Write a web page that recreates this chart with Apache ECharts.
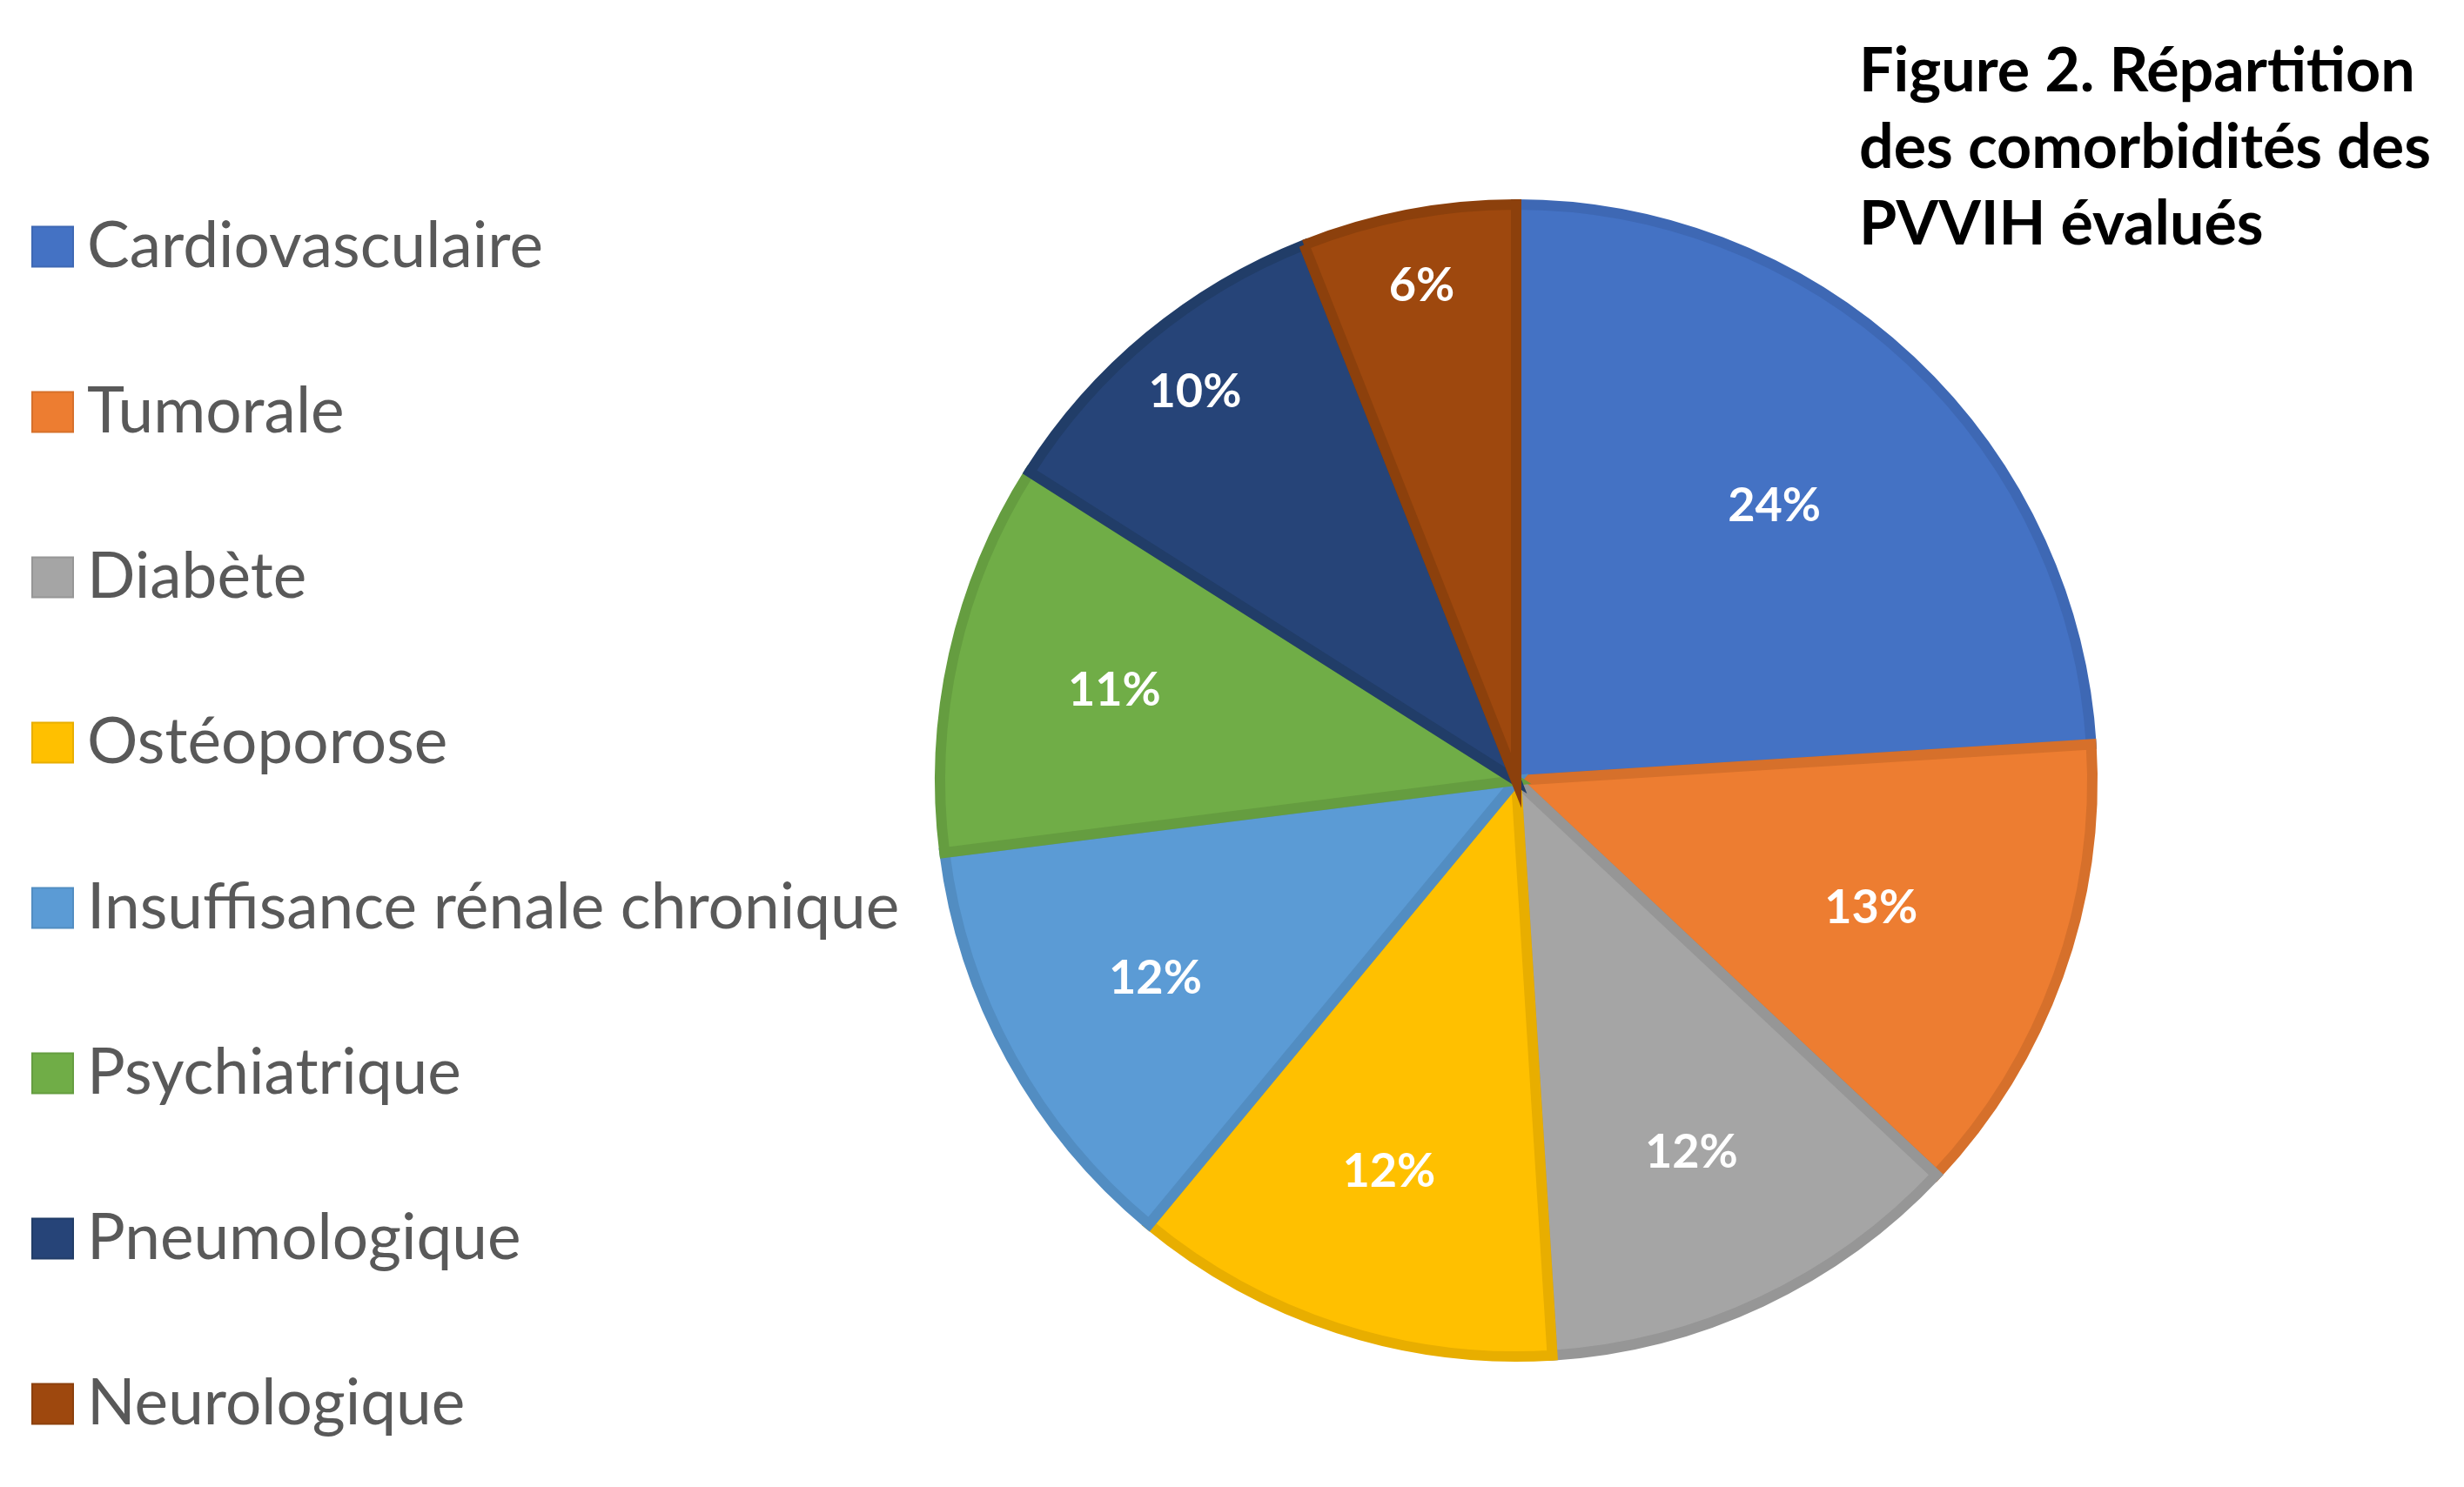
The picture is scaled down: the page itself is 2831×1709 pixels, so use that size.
<!DOCTYPE html>
<html>
<head>
<meta charset="utf-8">
<title>Répartition des comorbidités</title>
<script src="https://cdn.jsdelivr.net/npm/echarts@6/dist/echarts.min.js"></script>
<style>
  html, body { margin: 0; padding: 0; background: #fff; }
  #chart { width: 2831px; height: 1709px; }
</style>
</head>
<body>
<div id="chart"></div>
<script>
// données
var categories = ['Cardiovasculaire', 'Tumorale', 'Diabète', 'Ostéoporose',
                  'Insuffisance rénale chronique', 'Psychiatrique', 'Pneumologique', 'Neurologique'];
var values = [24, 13, 12, 12, 12, 11, 10, 6];

// couleurs Office
var sliceColors  = ['#4472C4', '#ED7D31', '#A5A5A5', '#FFC000', '#5B9BD5', '#70AD47', '#264478', '#9E480E'];
var borderColors = ['#3E68B4', '#D6702B', '#969696', '#E8AE00', '#528DC2', '#659D40', '#213D68', '#8C400C'];

var R = 662;
var center = [1742, 897];
var font = 'Lato, "Open Sans", sans-serif';

// rangées des étiquettes (fraction du rayon, index des parts)
var labelRings = [
  { at: 0.65, items: [0, 1] },
  { at: 0.71, items: [2, 3, 4, 5] },
  { at: 0.87, items: [6, 7] }
];

var chart = echarts.init(document.getElementById('chart'));

var series = [{
  name: 'comorbidites',
  type: 'pie',
  center: center,
  radius: [0, R],
  startAngle: 90,
  clockwise: true,
  silent: true,
  label: { show: false },
  labelLine: { show: false },
  data: categories.map(function (c, i) {
    return {
      name: c,
      value: values[i],
      itemStyle: { color: sliceColors[i], borderColor: borderColors[i], borderWidth: 12, borderJoin: 'miter' }
    };
  })
}];

// séries transparentes pour placer les pourcentages
labelRings.forEach(function (ring, k) {
  series.push({
    name: 'labels' + k,
    type: 'pie',
    center: center,
    radius: [(2 * ring.at - 1) * R, R],
    startAngle: 90,
    clockwise: true,
    silent: true,
    labelLine: { show: false },
    itemStyle: { color: 'rgba(0,0,0,0)', borderWidth: 0 },
    label: {
      position: 'inside',
      formatter: '{c}%',
      color: '#fff',
      fontFamily: font,
      fontWeight: 'bold',
      fontSize: 54
    },
    data: categories.map(function (c, i) {
      return { name: c, value: values[i], label: { show: ring.items.indexOf(i) >= 0 } };
    })
  });
});

var option = {
  backgroundColor: '#fff',
  animation: false,
  title: {
    text: 'Figure 2. Répartition\ndes comorbidités des\nPVVIH évalués',
    left: 2131,
    top: 33,
    textStyle: {
      fontFamily: font,
      fontWeight: 'bold',
      fontSize: 70,
      lineHeight: 88,
      color: '#000'
    }
  },
  legend: {
    orient: 'vertical',
    left: 31,
    top: 242,
    icon: 'rect',
    itemWidth: 47,
    itemHeight: 46,
    itemGap: 117,
    selectedMode: false,
    data: categories,
    textStyle: {
      fontFamily: font,
      fontSize: 73,
      lineHeight: 70,
      color: '#595959',
      padding: [0, 0, 0, 11]
    }
  },
  series: series
};

chart.setOption(option);
</script>
</body>
</html>
